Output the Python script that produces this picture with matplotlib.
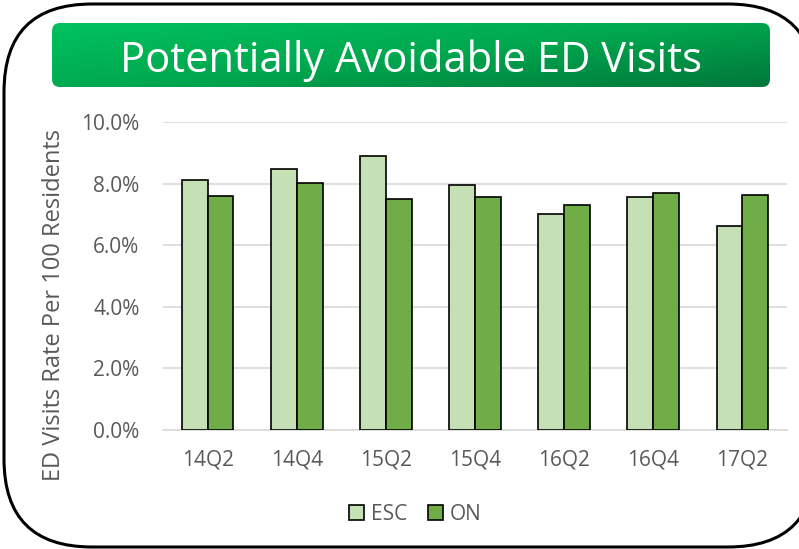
import numpy as np
import matplotlib
matplotlib.use("Agg")
import matplotlib.pyplot as plt
from matplotlib.patches import FancyBboxPatch
from matplotlib.colors import LinearSegmentedColormap
from matplotlib.ticker import PercentFormatter

quarters = ["14Q2", "14Q4", "15Q2", "15Q4", "16Q2", "16Q4", "17Q2"]
esc = [8.11, 8.49, 8.91, 7.95, 7.01, 7.56, 6.61]
ontario = [7.59, 8.01, 7.50, 7.56, 7.31, 7.68, 7.64]

TEXT_GREY = "#595959"
ESC_COLOR = "#c5e0b4"
ON_COLOR = "#70ad47"

plt.rcParams["font.family"] = ["Open Sans", "DejaVu Sans"]

W, H = 799, 549
fig = plt.figure(figsize=(W / 100, H / 100), dpi=100)

# background layer in pixel coordinates: outer rounded frame + title banner
bg = fig.add_axes([0, 0, 1, 1])
bg.set_xlim(0, W)
bg.set_ylim(H, 0)
bg.axis("off")

frame = FancyBboxPatch((4, 4), 812, 543, boxstyle="round,pad=0,rounding_size=88",
                       facecolor="white", edgecolor="black", linewidth=2.2)
bg.add_patch(frame)

banner = FancyBboxPatch((52, 23), 718, 64, boxstyle="round,pad=0,rounding_size=8",
                        facecolor="none", edgecolor="none")
bg.add_patch(banner)
gx, gy = np.meshgrid(np.linspace(0, 1, 200), np.linspace(0, 1, 40))
grad = 0.55 * gx + 0.45 * gy
cmap = LinearSegmentedColormap.from_list("banner", ["#00c25e", "#00a84f", "#00773a"])
img = bg.imshow(grad, cmap=cmap, extent=(52, 770, 87, 23), aspect="auto", zorder=2)
img.set_clip_path(banner)
bg.text(411, 72, "Potentially Avoidable ED Visits", color="white", fontsize=30,
        ha="center", va="baseline", zorder=3)

# bar chart
ax = fig.add_axes([163 / W, 1 - 430 / H, (787 - 163) / W, (430 - 122) / H])
x = np.arange(len(quarters))
w = 0.29
ax.bar(x - w / 2, esc, w, color=ESC_COLOR, edgecolor="black", linewidth=1.2,
       label="ESC", zorder=3)
ax.bar(x + w / 2, ontario, w, color=ON_COLOR, edgecolor="black", linewidth=1.2,
       label="ON", zorder=3)

ax.set_xlim(-0.5, len(quarters) - 0.5)
ax.set_ylim(0, 10)
ax.set_yticks(np.arange(0, 10.1, 2))
ax.yaxis.set_major_formatter(PercentFormatter(decimals=1))
ax.set_xticks(x)
ax.set_xticklabels(quarters)
ax.grid(axis="y", color="#d9d9d9", linewidth=1.2, zorder=0)
for side in ["top", "right", "left"]:
    ax.spines[side].set_visible(False)
ax.spines["bottom"].set_color("#d9d9d9")
ax.spines["bottom"].set_linewidth(1.2)
ax.tick_params(length=0, labelsize=15, colors=TEXT_GREY)
ax.tick_params(axis="x", pad=14)
ax.tick_params(axis="y", pad=17)
ax.set_facecolor("none")

bg.text(54, 305, "ED Visits Rate Per 100 Residents", rotation=90, fontsize=17,
        color=TEXT_GREY, ha="center", va="center")

leg = fig.legend(loc="center", bbox_to_anchor=(415 / W, 1 - 514 / H), ncol=2,
                 frameon=False, fontsize=15, handlelength=0.75, handleheight=0.75,
                 handletextpad=0.3, columnspacing=1.0)
for t in leg.get_texts():
    t.set_color(TEXT_GREY)

fig.savefig("out.png", dpi=100)
